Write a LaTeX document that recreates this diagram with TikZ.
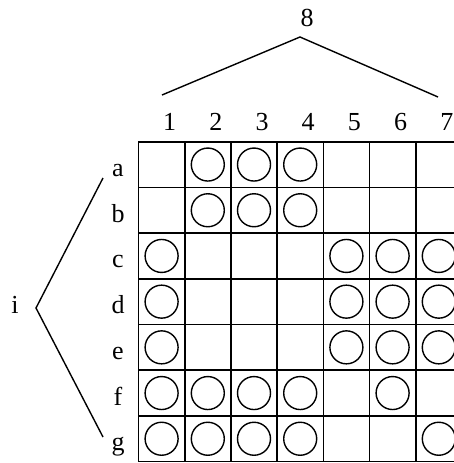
\documentclass[tikz,border=0pt]{standalone}
\usepackage{fontspec}
\setmainfont{Liberation Serif}
\begin{document}
\begin{tikzpicture}[x=1pt,y=-1pt,
  cellbox/.style={draw,line width=1.6pt,minimum width=46.2pt,minimum height=45.7pt,inner sep=0pt,outer sep=0pt},
  stone/.style={draw,circle,line width=1.4pt,minimum size=33pt,inner sep=0pt},
  lab/.style={font=\fontsize{26}{30}\selectfont,anchor=base,inner sep=0pt},
  brace/.style={line width=1.4pt}]
\useasboundingbox (0,0) rectangle (454,463);
\clip (0,0) rectangle (454,463);
% grid
\foreach \r [count=\ri] in {a,b,c,d,e,f,g}{
  \foreach \c in {1,...,7}{
    \node[cellbox] (cell-\r\c) at ({138.5+46.2*(\c-0.5)},{141.7+45.7*(\ri-0.5)}) {};
  }
}
% stones
\foreach \s in {a2,a3,a4,b2,b3,b4,c1,c5,c6,c7,d1,d5,d6,d7,e1,e5,e6,e7,f1,f2,f3,f4,f6,g1,g2,g3,g4,g7}{
  \node[stone] (st-\s) at (cell-\s) {};
}
% column labels
\foreach \c in {1,...,7}{
  \node[lab] (col-\c) at ({138.5+46.2*(\c-0.5)+8},130) {\c};
}
% row labels
\foreach \r [count=\ri] in {a,b,c,d,e,f,g}{
  \node[lab] (row-\r) at (118,{141.7+45.7*(\ri-0.5)+12}) {\r};
}
\node[lab] (eight) at (307,27) {8};
\node[lab] (ilab) at (15,313) {i};
% brace lines
\coordinate (topapex) at (300,37);
\coordinate (topL) at (162,95);
\coordinate (topR) at (438,97);
\coordinate (leftapex) at (36,308);
\coordinate (leftT) at (103,178);
\coordinate (leftB) at (103,437);
\draw[brace] (topL) -- (topapex) -- (topR);
\draw[brace] (leftT) -- (leftapex) -- (leftB);
\end{tikzpicture}
\end{document}
